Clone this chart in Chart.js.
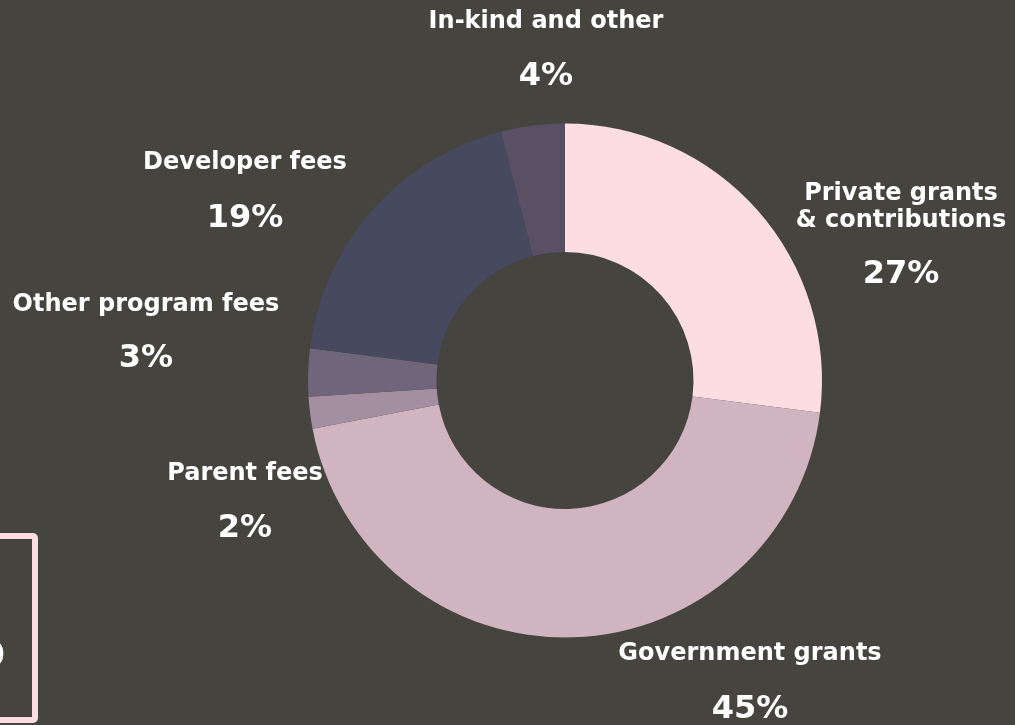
<!DOCTYPE html>
<html>
<head>
<meta charset="utf-8">
<script src="https://cdn.jsdelivr.net/npm/chart.js@4"></script>
<style>
  html, body { margin: 0; padding: 0; background: #45443f; overflow: hidden; }
  #wrap { position: relative; width: 1015px; height: 725px; }
  #revenue { position: absolute; left: 0; top: 0; }
  .side-box {
    position: absolute; left: -260px; top: 533px; width: 286px; height: 178px;
    border: 6px solid #fcdde2; border-radius: 5px;
    color: #fff; font: bold 34px "DejaVu Sans", sans-serif;
    text-align: right; line-height: 1; padding-right: 0;
  }
  .side-box span { position: absolute; right: 27px; top: 98px; }
</style>
</head>
<body>
<div id="wrap">
  <canvas id="revenue" width="1015" height="725"></canvas>
  <div class="side-box"><span>0</span></div>
</div>
<script>
// revenue sources, clockwise from 12 o'clock
const categories = ["Private grants & contributions", "Government grants", "Parent fees", "Other program fees", "Developer fees", "In-kind and other"];
const shares = [27, 45, 2, 3, 19, 4];
const sliceColors = ["#fcdde2", "#d0b5c0", "#a48fa0", "#6f667b", "#474a5e", "#5a5063"];

// label text lines as drawn on the picture
const labelLines = [
    ["Private grants", "& contributions"],
    ["Government grants"],
    ["Parent fees"],
    ["Other program fees"],
    ["Developer fees"],
    ["In-kind and other"]
];
// where each label sits: [centre x, first title baseline, percent baseline]
const labelSpots = [
    [901, 200, 283],
    [750, 660, 718],
    [245, 480, 537],
    [146, 311, 367],
    [245, 169, 227],
    [546, 28, 85]
];

const labelPlugin = {
    id: 'sliceLabels',
    afterDatasetsDraw(chart) {
        const ctx = chart.ctx;
        ctx.save();
        ctx.fillStyle = '#ffffff';
        ctx.textAlign = 'center';
        ctx.textBaseline = 'alphabetic';
        chart.data.datasets[0].data.forEach((v, i) => {
            const [x, y, py] = labelSpots[i];
            ctx.font = 'bold 24px "DejaVu Sans"';
            labelLines[i].forEach((line, j) => ctx.fillText(line, x, y + j * 27));
            ctx.font = 'bold 32px "DejaVu Sans"';
            ctx.fillText(v + '%', x, py);
        });
        ctx.restore();
    }
};

new Chart(document.getElementById('revenue'), {
    type: 'doughnut',
    data: {
        labels: categories,
        datasets: [{
            data: shares,
            backgroundColor: sliceColors,
            borderWidth: 0,
            hoverOffset: 0
        }]
    },
    options: {
        responsive: false,
        animation: false,
        cutout: '50%',
        layout: { padding: { left: 300, right: 185, top: 123.5, bottom: 87.5 } },
        plugins: {
            legend: { display: false },
            tooltip: { enabled: false }
        }
    },
    plugins: [labelPlugin]
});
</script>
</body>
</html>
